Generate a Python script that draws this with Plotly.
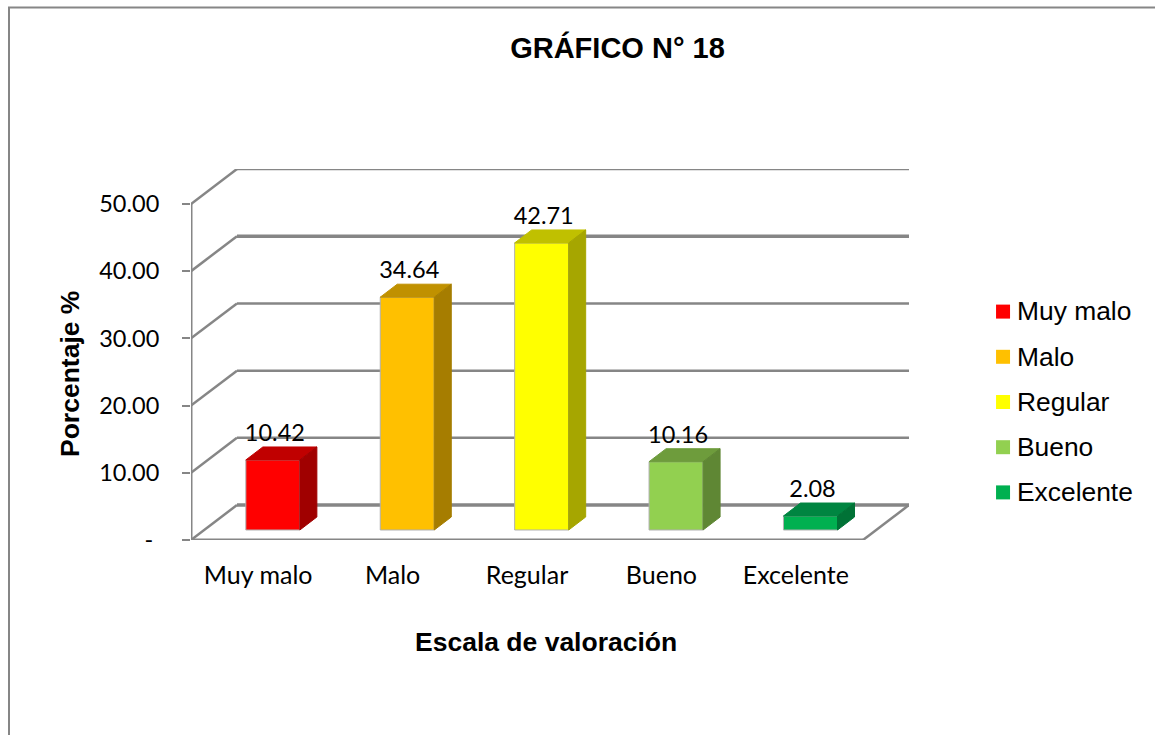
import plotly.graph_objects as go

# data
categories = ['Muy malo', 'Malo', 'Regular', 'Bueno', 'Excelente']
values = [10.42, 34.64, 42.71, 10.16, 2.08]
y_ticks = [0, 10, 20, 30, 40, 50]
y_tick_labels = ['-\u00a0', '10.00', '20.00', '30.00', '40.00', '50.00']

front_colors = ['#FF0000', '#FFC000', '#FFFF00', '#92D050', '#00B050']
top_colors = ['#C00000', '#C09100', '#C0C000', '#6E9C3C', '#008541']
side_colors = ['#A00000', '#A67D00', '#A6A600', '#5F8734', '#007236']

GRID = '#868686'
W, H = 1155, 735

# fake 3D: depth of the box and of each bar, in axis units
DEPTH_X, DEPTH_Y = 0.342, 5.2
BAR_SHIFT, BAR_BASE, BAR_WIDTH = 0.109, 1.49, 0.402
BAR_DX, BAR_DY = 0.1265, 1.93
LABEL_GAP = 3.7
LEFT, RIGHT = -0.5, 4.5

fig = go.Figure()

# front faces
for i, cat in enumerate(categories):
    fig.add_trace(go.Bar(x=[i + BAR_SHIFT], y=[values[i]], base=BAR_BASE, width=BAR_WIDTH, name=cat,
                         marker=dict(color=front_colors[i], line=dict(color='#B0B0B0', width=1))))

# top and side faces
for i, val in enumerate(values):
    x0 = i + BAR_SHIFT - BAR_WIDTH / 2
    x1 = i + BAR_SHIFT + BAR_WIDTH / 2
    low = BAR_BASE
    high = BAR_BASE + val
    fig.add_trace(go.Scatter(x=[x0, x1, x1 + BAR_DX, x0 + BAR_DX, x0],
                             y=[high, high, high + BAR_DY, high + BAR_DY, high],
                             mode='lines', fill='toself', fillcolor=top_colors[i],
                             line=dict(color=top_colors[i], width=1), hoverinfo='skip'))
    fig.add_trace(go.Scatter(x=[x1, x1 + BAR_DX, x1 + BAR_DX, x1, x1],
                             y=[low, low + BAR_DY, high + BAR_DY, high, low],
                             mode='lines', fill='toself', fillcolor=side_colors[i],
                             line=dict(color=side_colors[i], width=1), hoverinfo='skip'))

# value labels
fig.add_trace(go.Scatter(x=[i + BAR_SHIFT + 0.015 for i in range(len(values))],
                         y=[BAR_BASE + v + LABEL_GAP for v in values],
                         mode='text', text=['%.2f' % v for v in values], textposition='middle center',
                         textfont=dict(family='Lato', size=23.5, color='#000000'), hoverinfo='skip',
                         cliponaxis=False))

# y axis line, stops at the last tick
fig.add_trace(go.Scatter(x=[LEFT, LEFT], y=[y_ticks[0], y_ticks[-1]], mode='lines',
                         line=dict(color=GRID, width=3), hoverinfo='skip', cliponaxis=False))

# side legend, drawn on its own little axes so the spacing can follow the picture
rows = list(range(len(categories)))
fig.add_trace(go.Scatter(x=[0.079] * len(categories), y=rows, xaxis='x2', yaxis='y2', mode='markers',
                         marker=dict(symbol='square', size=14, color=front_colors),
                         hoverinfo='skip', cliponaxis=False))
fig.add_trace(go.Scatter(x=[0.1636] * len(categories), y=[r + 0.05 for r in rows], xaxis='x2', yaxis='y2',
                         mode='text', text=categories, textposition='middle right',
                         textfont=dict(family='Liberation Sans', size=26.4, color='#000000'),
                         hoverinfo='skip', cliponaxis=False))

# walls and floor go under the bars
shapes = []
for tick in y_ticks:
    top = tick + DEPTH_Y
    thick = 3.5 if tick in (0, 40) else 2.5
    shapes.append(dict(type='line', layer='below', xref='x', yref='y', x0=LEFT + DEPTH_X, x1=RIGHT + DEPTH_X,
                       y0=top, y1=top, line=dict(color=GRID, width=thick)))
    shapes.append(dict(type='line', layer='below', xref='x', yref='y', x0=LEFT, x1=LEFT + DEPTH_X,
                       y0=tick, y1=top, line=dict(color=GRID, width=2.5)))
shapes.append(dict(type='line', layer='below', xref='x', yref='y', x0=LEFT, x1=RIGHT, y0=0, y1=0,
                   line=dict(color=GRID, width=3)))
shapes.append(dict(type='line', layer='below', xref='x', yref='y', x0=RIGHT, x1=RIGHT + DEPTH_X, y0=0, y1=DEPTH_Y,
                   line=dict(color=GRID, width=2.5)))
# outer frame of the pasted chart
shapes.append(dict(type='path', xref='paper', yref='paper', layer='below',
                   path='M %f,0 L %f,%f L 1,%f' % (9 / W, 9 / W, 1 - 7.5 / H, 1 - 7.5 / H),
                   line=dict(color=GRID, width=2)))

annotations = [
    dict(text='<b>Escala de valoración</b>', x=546 / W, y=1 - 642 / H, xref='paper', yref='paper',
         showarrow=False, xanchor='center', yanchor='middle',
         font=dict(family='Liberation Sans', size=26.5, color='#000000')),
    dict(text='<b>Porcentaje %</b>', x=70 / W, y=1 - 374 / H, xref='paper', yref='paper', textangle=-90,
         showarrow=False, xanchor='center', yanchor='middle',
         font=dict(family='Liberation Sans', size=26.5, color='#000000')),
]

fig.update_layout(
    width=W, height=H, margin=dict(l=0, r=0, t=0, b=0, autoexpand=False),
    paper_bgcolor='white', plot_bgcolor='rgba(0,0,0,0)', showlegend=False, barmode='overlay',
    title=dict(text='<b>GRÁFICO N° 18</b>', x=617.5 / W, y=1 - 48 / H, xanchor='center', yanchor='middle',
               font=dict(family='Liberation Sans', size=29, color='#000000')),
    shapes=shapes, annotations=annotations,
    xaxis=dict(domain=[191 / W, 909 / W], range=[LEFT, RIGHT + DEPTH_X], tickvals=rows,
               ticktext=categories, ticks='', showline=False, showgrid=False, zeroline=False,
               ticklabelstandoff=18, tickfont=dict(family='Lato', size=25, color='#000000')),
    yaxis=dict(domain=[1 - 540 / H, 1 - 169 / H], range=[0, y_ticks[-1] + DEPTH_Y], tickvals=y_ticks,
               ticktext=y_tick_labels, ticks='outside', ticklen=8, tickwidth=2, tickcolor=GRID,
               showline=False, showgrid=False, zeroline=False, ticklabelstandoff=18,
               tickfont=dict(family='Lato', size=23.5, color='#000000')),
    xaxis2=dict(domain=[990 / W, 1], range=[0, 1], anchor='y2', visible=False),
    yaxis2=dict(domain=[1 - 515 / H, 1 - 289 / H], range=[4.5, -0.5], anchor='x2', visible=False),
)

# page margin would push the fixed-size figure past the window
fig.write_html("out.html", config=dict(displayModeBar=False), post_script="document.body.style.margin = '0';")
